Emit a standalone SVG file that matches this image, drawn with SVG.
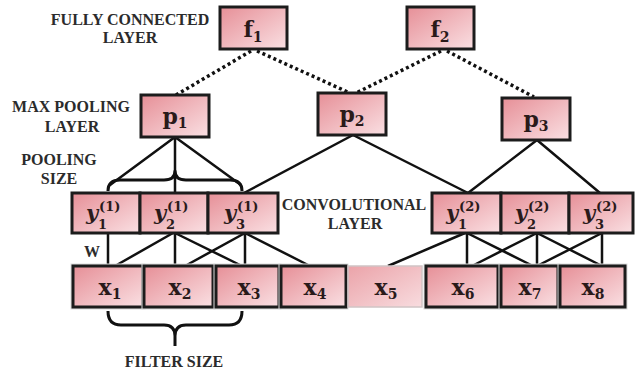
<svg xmlns="http://www.w3.org/2000/svg" width="635" height="371" viewBox="0 0 635 371">
<defs>
<linearGradient id="g" x1="0" y1="0" x2="1" y2="1">
<stop offset="0" stop-color="#e68f97"/>
<stop offset="1" stop-color="#fae0e3"/>
</linearGradient>
<linearGradient id="g2" x1="0" y1="0" x2="1" y2="1">
<stop offset="0" stop-color="#eba3a9"/>
<stop offset="1" stop-color="#f8dcdf"/>
</linearGradient>
<style>
.box{fill:url(#g);stroke:#1c1c1c;stroke-width:3}
.shadow{fill:none;stroke:#dcdcdc;stroke-width:5}
.lbl{font-family:"Liberation Serif",serif;font-weight:bold;font-size:16px;fill:#2b2b2b;text-anchor:middle}
.m{font-family:"DejaVu Serif","Liberation Serif",serif;font-weight:bold;font-size:22px;fill:#2a1a1a}
.s{font-size:14px}
.yi{font-family:"DejaVu Serif","Liberation Serif",serif;font-weight:bold;font-style:italic;font-size:21px;fill:#2a1a1a}
.sm{font-family:"DejaVu Serif","Liberation Serif",serif;font-weight:bold;font-size:13px;fill:#2a1a1a}
.ln{stroke:#111;stroke-width:2.5;fill:none}
.dot{stroke:#111;stroke-width:3.5;stroke-dasharray:3 3;fill:none}
.br{stroke:#111;stroke-width:3;fill:none;stroke-linejoin:round}
</style>
</defs>

<g id="labels">
<text class="lbl" x="130" y="25">FULLY CONNECTED</text>
<text class="lbl" x="130" y="43">LAYER</text>
<text class="lbl" x="71" y="112">MAX POOLING</text>
<text class="lbl" x="72" y="132">LAYER</text>
<text class="lbl" x="59" y="165">POOLING</text>
<text class="lbl" x="59" y="184">SIZE</text>
<text class="lbl" x="354" y="210">CONVOLUTIONAL</text>
<text class="lbl" x="355" y="229">LAYER</text>
<text class="lbl" x="92" y="257">W</text>
<text class="lbl" x="174" y="367">FILTER SIZE</text>
</g>

<g id="connectors">
<path class="dot" d="M251,51 L176,95"/>
<path class="dot" d="M257,51 L350,93"/>
<path class="dot" d="M441,51 L356,93"/>
<path class="dot" d="M447,51 L534,97"/>
<path class="ln" d="M175,137 L110,185 M175,137 L175,193 M175,137 L241,185"/>
<path class="ln" d="M353,135 L244,193 M353,135 L468,193"/>
<path class="ln" d="M537,140 L468,193 M537,140 L600,193"/>
<path class="br" d="M108,191 Q108,180 120,180 L164,180 Q175,180 175,171 Q175,180 186,180 L230,180 Q242,180 242,191"/>
<path class="ln" d="M108,233 L108,266 M173,233 L115,266 M175,233 L175,266 M175,233 L242,266 M245,233 L185,266 M245,233 L245,266 M245,233 L310,266"/>
<path class="ln" d="M465,233 L388,266 M467,233 L467,266 M467,233 L533,266 M537,233 L472,266 M537,233 L537,266 M537,233 L602,266 M602,233 L537,266 M602,233 L602,266"/>
<path class="br" d="M108,311 Q108,325 121,325 L164,325 Q175,325 175,336 L175,346 M175,336 Q175,325 186,325 L229,325 Q242,325 242,311"/>
</g>

<g id="f1"><rect class="box" x="220" y="7" width="67" height="42"/><text class="m" x="253" y="37" text-anchor="middle">f<tspan class="s" dy="5">1</tspan></text></g>
<g id="f2"><rect class="box" x="407" y="7" width="67" height="42"/><text class="m" x="440" y="37" text-anchor="middle">f<tspan class="s" dy="5">2</tspan></text></g>
<g id="p1"><rect class="box" x="141" y="95" width="68" height="42"/><text class="m" x="175" y="124" text-anchor="middle">p<tspan class="s" dy="4">1</tspan></text></g>
<g id="p2"><rect class="box" x="318" y="93" width="68" height="42"/><text class="m" x="352" y="122" text-anchor="middle">p<tspan class="s" dy="4">2</tspan></text></g>
<g id="p3"><rect class="box" x="502" y="98" width="68" height="42"/><text class="m" x="536" y="127" text-anchor="middle">p<tspan class="s" dy="4">3</tspan></text></g>

<g id="y1_1"><rect class="box" x="72" y="193" width="68" height="40"/><text class="yi" x="86" y="220">y</text><text class="sm" x="98" y="229">1</text><text class="sm" x="99" y="211">(1)</text></g>
<g id="y2_1"><rect class="box" x="140" y="193" width="68" height="40"/><text class="yi" x="154" y="220">y</text><text class="sm" x="166" y="229">2</text><text class="sm" x="167" y="211">(1)</text></g>
<g id="y3_1"><rect class="box" x="208" y="193" width="70" height="40"/><text class="yi" x="224" y="220">y</text><text class="sm" x="236" y="229">3</text><text class="sm" x="237" y="211">(1)</text></g>
<g id="y1_2"><rect class="box" x="432" y="193" width="69" height="40"/><text class="yi" x="446" y="220">y</text><text class="sm" x="458" y="229">1</text><text class="sm" x="459" y="211">(2)</text></g>
<g id="y2_2"><rect class="box" x="501" y="193" width="68" height="40"/><text class="yi" x="515" y="220">y</text><text class="sm" x="527" y="229">2</text><text class="sm" x="528" y="211">(2)</text></g>
<g id="y3_2"><rect class="box" x="569" y="193" width="64" height="40"/><text class="yi" x="583" y="220">y</text><text class="sm" x="595" y="229">3</text><text class="sm" x="596" y="211">(2)</text></g>

<g id="x1"><rect class="shadow" x="73" y="266" width="70" height="41"/><rect class="box" x="73" y="266" width="70" height="41"/><text class="m" x="110" y="295" text-anchor="middle">x<tspan class="s" dy="4">1</tspan></text></g>
<g id="x2"><rect class="shadow" x="144" y="266" width="69" height="41"/><rect class="box" x="144" y="266" width="69" height="41"/><text class="m" x="180" y="295" text-anchor="middle">x<tspan class="s" dy="4">2</tspan></text></g>
<g id="x3"><rect class="shadow" x="216" y="266" width="63" height="41"/><rect class="box" x="216" y="266" width="63" height="41"/><text class="m" x="249" y="295" text-anchor="middle">x<tspan class="s" dy="4">3</tspan></text></g>
<g id="x4"><rect class="shadow" x="281" y="266" width="65" height="41"/><rect class="box" x="281" y="266" width="65" height="41"/><text class="m" x="315" y="295" text-anchor="middle">x<tspan class="s" dy="4">4</tspan></text></g>
<g id="x5"><rect x="348" y="266" width="74" height="41" fill="url(#g2)" stroke="#d0c4c5" stroke-width="1.5"/><text class="m" x="386" y="295" text-anchor="middle">x<tspan class="s" dy="4">5</tspan></text></g>
<g id="x6"><rect class="shadow" x="426" y="266" width="72" height="41"/><rect class="box" x="426" y="266" width="72" height="41"/><text class="m" x="463" y="295" text-anchor="middle">x<tspan class="s" dy="4">6</tspan></text></g>
<g id="x7"><rect class="shadow" x="501" y="266" width="57" height="41"/><rect class="box" x="501" y="266" width="57" height="41"/><text class="m" x="530" y="295" text-anchor="middle">x<tspan class="s" dy="4">7</tspan></text></g>
<g id="x8"><rect class="shadow" x="560" y="266" width="65" height="41"/><rect class="box" x="560" y="266" width="65" height="41"/><text class="m" x="593" y="295" text-anchor="middle">x<tspan class="s" dy="4">8</tspan></text></g>
</svg>
